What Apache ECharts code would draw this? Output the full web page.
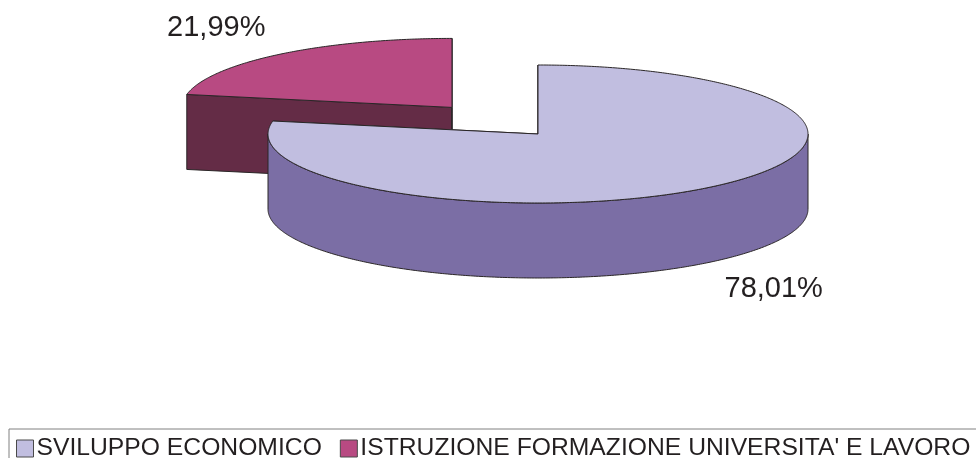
<!DOCTYPE html>
<html>
<head>
<meta charset="utf-8">
<script src="https://cdn.jsdelivr.net/npm/echarts@6/dist/echarts.min.js"></script>
<style>
  html, body { margin: 0; padding: 0; background: #fff; }
  #chart { width: 976px; height: 458px; }
</style>
</head>
<body>
<div id="chart"></div>
<script>
// Category names and their percentage shares (first slice starts at 12 o'clock, clockwise)
const categories = ['SVILUPPO ECONOMICO', "ISTRUZIONE FORMAZIONE UNIVERSITA' E LAVORO"];
const shares = [78.01, 21.99];

// Look of the 3D pie
const pie = { cx: 538, cy: 134, rx: 270, ry: 69, depth: 75 };
const topColors = ['#c1bee0', '#b84a82'];
const sideColors = ['#7b6ea5', '#642c46'];
const explodeRatio = [0, 0.5];
const edgeColor = '#2a2627';
const textColor = '#231f20';
const fontFamily = '"Liberation Sans", Arial, sans-serif';

const total = shares.reduce((a, b) => a + b, 0);

function sliceAngles(i) {
  let before = 0;
  for (let k = 0; k < i; k++) before += shares[k];
  const t0 = -Math.PI / 2 + (before / total) * 2 * Math.PI;
  const t1 = t0 + (shares[i] / total) * 2 * Math.PI;
  return [t0, t1];
}

function fmt(v) {
  return v.toFixed(2).replace('.', ',') + '%';
}

function renderSlice(i) {
  return function (params, api) {
    const value = api.value(0);
    const [t0, t1] = sliceAngles(i);
    const mid = (t0 + t1) / 2;
    const e = explodeRatio[i];
    const cx = pie.cx + e * pie.rx * Math.cos(mid);
    const cy = pie.cy + e * pie.ry * Math.sin(mid);
    const d = pie.depth;
    const pt = (t) => [cx + pie.rx * Math.cos(t), cy + pie.ry * Math.sin(t)];

    // arc sample angles including the left/right extremes
    const ts = [];
    const steps = Math.max(8, Math.ceil((t1 - t0) / 0.01));
    for (let s = 0; s <= steps; s++) ts.push(t0 + (t1 - t0) * s / steps);
    for (let k = Math.ceil(t0 / Math.PI); k * Math.PI < t1; k++) ts.push(k * Math.PI);
    ts.sort((a, b) => a - b);

    const children = [];
    const wallStyle = { fill: sideColors[i], stroke: edgeColor, lineWidth: 1, lineJoin: 'round' };

    // straight side walls at both cut edges
    [t0, t1].forEach((t) => {
      const p = pt(t);
      children.push({
        type: 'polygon',
        shape: { points: [[cx, cy], p, [p[0], p[1] + d], [cx, cy + d]] },
        style: wallStyle
      });
    });

    // curved outer wall on the front half of the rim
    let run = [];
    const flush = () => {
      if (run.length > 1) {
        const top = run.map(pt);
        const bottom = top.map((p) => [p[0], p[1] + d]).reverse();
        children.push({ type: 'polygon', shape: { points: top.concat(bottom) }, style: wallStyle });
      }
      run = [];
    };
    ts.forEach((t) => {
      if (Math.sin(t) >= -1e-9) run.push(t); else flush();
    });
    flush();

    // top face
    const topPts = [[cx, cy]].concat(ts.map(pt));
    children.push({
      type: 'polygon',
      shape: { points: topPts },
      style: { fill: topColors[i], stroke: edgeColor, lineWidth: 1, lineJoin: 'round' }
    });

    // percentage label outside the slice
    const lx = cx + pie.rx * 1.37 * Math.cos(mid);
    const ly = cy + pie.ry * 1.5 * Math.sin(mid) + (Math.sin(mid) > 0 ? d : 0);
    children.push({
      type: 'text',
      style: {
        x: lx, y: ly, text: fmt(value), fill: textColor,
        font: '29px ' + fontFamily, align: 'center', verticalAlign: 'middle'
      }
    });

    return { type: 'group', children: children };
  };
}

// draw the slices whose centre lies further back first
const order = shares.map((_, i) => i).sort((a, b) => {
  const ma = sliceAngles(a), mb = sliceAngles(b);
  return Math.sin((ma[0] + ma[1]) / 2) - Math.sin((mb[0] + mb[1]) / 2);
});

const series = order.map((i) => ({
  type: 'custom',
  name: categories[i],
  coordinateSystem: 'none',
  itemStyle: { color: topColors[i] },
  data: [[shares[i]]],
  renderItem: renderSlice(i),
  silent: true,
  animation: false
}));

const chart = echarts.init(document.getElementById('chart'), null, { renderer: 'canvas' });
chart.setOption({
  backgroundColor: '#ffffff',
  animation: false,
  legend: {
    left: 9,
    top: 429,
    width: 1100,
    orient: 'horizontal',
    padding: [7, 12, 10, 7],
    itemWidth: 17,
    itemHeight: 17,
    itemGap: 18,
    icon: 'rect',
    borderColor: '#808080',
    borderWidth: 1,
    selectedMode: false,
    textStyle: { fontFamily: fontFamily, fontSize: 24.7, color: textColor, padding: [3, 0, 0, -2] },
    data: categories.map((name, i) => ({
      name: name,
      itemStyle: { color: topColors[i], borderColor: '#4a4a4a', borderWidth: 1 }
    }))
  },
  series: series
});
</script>
</body>
</html>
